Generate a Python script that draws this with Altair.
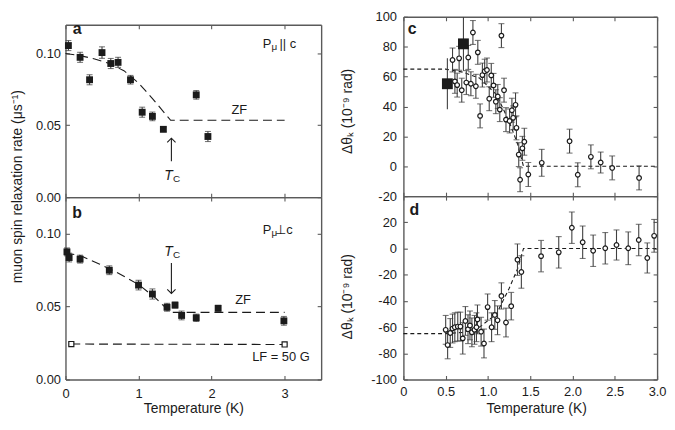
import altair as alt
import pandas as pd

FONT = "Liberation Sans"
INK = "#1b1b1b"
BAR = "#404040"
FRAME = "#5a5a5a"

# ---------------- panel a : P_mu || c ----------------
a_T = [0.04, 0.20, 0.33, 0.50, 0.62, 0.72, 0.89, 1.05, 1.19, 1.34, 1.79, 1.95]
a_rate = [0.1055, 0.0973, 0.0817, 0.1006, 0.0930, 0.0938, 0.0817, 0.0591, 0.0562, 0.0472, 0.0712, 0.0422]
a_err = [0.0035, 0.0035, 0.0035, 0.0040, 0.0035, 0.0035, 0.0030, 0.0035, 0.0030, 0.0015, 0.0030, 0.0035]
a_fit_T = [0.0, 0.2, 0.4, 0.6, 0.8, 1.0, 1.2, 1.44, 3.0]
a_fit = [0.1000, 0.0985, 0.0962, 0.0930, 0.0880, 0.0795, 0.0680, 0.0535, 0.0535]

# ---------------- panel b : P_mu _|_ c ----------------
b_T = [0.02, 0.05, 0.20, 0.60, 1.00, 1.19, 1.39, 1.50, 1.59, 1.79, 2.09, 2.99]
b_rate = [0.0875, 0.0836, 0.0825, 0.0749, 0.0647, 0.0586, 0.0495, 0.0510, 0.0439, 0.0423, 0.0488, 0.0402]
b_err = [0.0027, 0.0030, 0.0027, 0.0030, 0.0033, 0.0035, 0.0027, 0.0020, 0.0030, 0.0025, 0.0020, 0.0030]
b_lf_T = [0.08, 3.00]
b_lf = [0.0243, 0.0240]
b_fit_T = [0.0, 0.2, 0.47, 0.7, 1.0, 1.22, 1.38, 1.44, 3.0]
b_fit = [0.0868, 0.0850, 0.0790, 0.0735, 0.0651, 0.0564, 0.0488, 0.0460, 0.0460]

# ---------------- panel c : Kerr rotation ----------------
c_sq_T = [0.52, 0.71]
c_sq = [55.2, 81.9]
c_sq_err = [17, 18]
c_T = [0.581, 0.609, 0.636, 0.659, 0.690, 0.744, 0.767, 0.798, 0.822, 0.857, 0.880, 0.907,
       0.934, 0.961, 0.988, 1.015, 1.039, 1.066, 1.093, 1.116, 1.140, 1.159, 1.190, 1.213,
       1.256, 1.283, 1.298, 1.326, 1.337, 1.364, 1.380, 1.407, 1.430, 1.477, 1.636, 1.965,
       2.062, 2.217, 2.333, 2.469, 2.787]
c_val = [71.1, 56.8, 54.3, 72.2, 50.9, 56.0, 72.8, 55.2, 89.5, 53.5, 76.2, 33.7,
         61.0, 63.6, 64.4, 45.2, 60.8, 54.1, 43.2, 46.7, 37.9, 87.4, 50.9, 31.2,
         30.3, 37.5, 32.4, 41.1, 25.7, 7.8, -9.0, 12.0, 16.4, -5.5, 2.3, 16.8,
         -5.7, 6.3, 2.5, -1.1, -7.8]
c_err = [8, 8, 8, 8, 8, 8, 8, 8, 8, 8, 8, 8,
         8, 8, 8, 8, 8, 8, 8, 8, 8, 8, 8, 8,
         8, 8, 8, 8, 8, 8, 8, 8, 9, 8, 9, 8,
         8, 8, 7, 8, 8]
c_fit_T = [0.0, 0.5, 0.7, 0.9, 1.1, 1.25, 1.35, 1.42, 3.0]
c_fit = [65, 65, 63, 59, 48, 30, 15, 0, 0]

# ---------------- panel d ----------------
d_T = [0.500, 0.523, 0.554, 0.581, 0.608, 0.643, 0.674, 0.702, 0.733, 0.764, 0.787, 0.810,
       0.841, 0.864, 0.876, 0.919, 0.953, 0.996, 1.043, 1.081, 1.113, 1.159, 1.213, 1.275,
       1.349, 1.395, 1.628, 1.837, 1.992, 2.120, 2.244, 2.387, 2.520, 2.659, 2.783, 2.884,
       2.965]
d_val = [-62.1, -73.7, -64.5, -61.1, -60.1, -59.6, -59.6, -68.6, -55.3, -61.6, -58.7, -64.0,
         -62.1, -60.1, -54.1, -63.5, -72.5, -44.7, -60.1, -50.7, -54.8, -36.2, -56.5, -44.0,
         -8.5, -17.9, -5.8, -2.9, 15.9, 4.8, -1.7, 0.2, 2.7, 0.2, 6.5, -7.2,
         9.7]
d_err = [11, 10.5, 11, 11, 11, 11, 11, 12, 11, 11, 11, 11,
         11, 11, 11, 11, 11, 10, 11, 11, 11, 10, 11, 10.5,
         12, 12.4, 12, 12, 12, 12.4, 12, 12, 11.5, 12.5, 12, 11.5,
         12.5]
d_fit_T = [0.0, 0.5, 0.7, 0.9, 1.1, 1.25, 1.35, 1.42, 3.0]
d_fit = [-65, -65, -64, -60, -50, -30.5, -15.5, 0, 0]

# ---------------- axes / ticks ----------------
XL = [0, 3.5]
YA = [0, 0.12]
YB = [0, 0.125]
XR = [0, 3.0]
YC = [-20, 100]
YD = [-100, 40]
x_ticks_left = [0, 1, 2, 3]
y_ticks_left = [0, 0.05, 0.10]
x_ticks_right = [0, 0.5, 1.0, 1.5, 2.0, 2.5, 3.0]
y_ticks_c = [-20, 0, 20, 40, 60, 80, 100]
y_ticks_d = [-100, -80, -60, -40, -20, 0, 20]

LEFT_TITLE = "muon spin relaxation rate (\u03bcs\u207b\u00b9)"
RIGHT_TITLE = "\u0394\u03b8\u2096 (10\u207b\u2079 rad)"
X_TITLE = "Temperature (K)"

LW, RW = 258, 256
HA, HB, HC, HD = 174, 184, 181, 185
SPACER = 8
GAP = 17


def scl(dom):
    return alt.Scale(domain=dom, nice=False, zero=False)


def ex(dom, ax=None, field="T"):
    return alt.X(f"{field}:Q", scale=scl(dom), axis=ax)


def ey(dom, ax=None, field="v"):
    return alt.Y(f"{field}:Q", scale=scl(dom), axis=ax)


def mkaxis(orient, values, labels=False, **kw):
    d = dict(orient=orient, values=values, grid=False, domain=True, domainColor=FRAME,
             domainWidth=1.4, ticks=True, tickSize={"expr": "-4"}, tickColor=FRAME,
             tickWidth=1.1, labels=labels, labelFont=FONT, labelFontSize=13,
             labelColor=INK, labelFlush=False, labelOverlap=False, title=None,
             titleFont=FONT, titleFontSize=14, titleColor=INK, titleFontWeight="normal")
    d.update(kw)
    return alt.Axis(**d)


def errdf(T, v, e):
    return pd.DataFrame({"T": T, "v": v,
                         "lo": [a - b for a, b in zip(v, e)],
                         "hi": [a + b for a, b in zip(v, e)]})


def errbars(df, xd, yd, top_ax=None, right_ax=None, caps=True):
    rule = alt.Chart(df).mark_rule(color=BAR, strokeWidth=1.1).encode(
        x=ex(xd, top_ax), y=ey(yd, right_ax, "lo"), y2=alt.Y2("hi"))
    out = [rule]
    if caps:
        cap = alt.Chart(df).transform_fold(["lo", "hi"], as_=["k", "e"]).mark_tick(
            orient="horizontal", size=6, thickness=1.1, color=BAR).encode(
            x=ex(xd), y=ey(yd, None, "e"))
        out.append(cap)
    return out


def label(x, y, s, xd, yd, size=13, **kw):
    d = pd.DataFrame({"T": [x], "v": [y], "s": [s]})
    return alt.Chart(d).mark_text(font=FONT, fontSize=size, color=INK, **kw).encode(
        x=ex(xd), y=ey(yd), text="s:N")


def arrow(x, y0, y1, xd, yd, up=True):
    shaft = alt.Chart(pd.DataFrame({"T": [x], "v": [y0], "v2": [y1]})).mark_rule(
        color=INK, strokeWidth=1.1).encode(x=ex(xd), y=ey(yd), y2=alt.Y2("v2"))
    shape = "M -1 1 L 0 0 L 1 1" if up else "M -1 -1 L 0 0 L 1 -1"
    head = alt.Chart(pd.DataFrame({"T": [x], "v": [y1]})).mark_point(
        shape=shape, size=70, filled=False, stroke=INK, strokeWidth=1.1, opacity=1).encode(
        x=ex(xd), y=ey(yd))
    return [shaft, head]


def line(T, v, xd, yd, dash, width=1.1):
    return alt.Chart(pd.DataFrame({"T": T, "v": v})).mark_line(
        color=INK, strokeDash=dash, strokeWidth=width).encode(x=ex(xd), y=ey(yd))


# ---------------- panel a ----------------
a_df = errdf(a_T, a_rate, a_err)
a_layers = [
    line(a_fit_T, a_fit, XL, YA, [9, 5]),
    *errbars(a_df, XL, YA, mkaxis("top", x_ticks_left), mkaxis("right", y_ticks_left)),
    alt.Chart(a_df).mark_square(size=48, color=INK, opacity=1).encode(
        x=ex(XL, mkaxis("bottom", x_ticks_left)),
        y=ey(YA, mkaxis("left", y_ticks_left, labels=True, format=".2f", labelPadding=9,
                        title=LEFT_TITLE, titleX=-41, titleY=163))),
    label(0.16, 0.1167, "a", XL, YA, size=16, fontWeight="bold"),
    label(2.70, 0.1068, "P", XL, YA, align="left"),
    label(2.82, 0.1046, "\u03bc", XL, YA, size=10, align="left"),
    label(2.93, 0.1068, "|| c", XL, YA, align="left"),
    label(2.38, 0.0606, "ZF", XL, YA),
    label(1.41, 0.0145, "T", XL, YA, size=14, fontStyle="italic"),
    label(1.52, 0.0125, "C", XL, YA, size=10),
    *arrow(1.45, 0.025, 0.041, XL, YA, up=True),
]
panel_a = alt.layer(*a_layers).resolve_axis(x="independent", y="independent").properties(
    width=LW, height=HA)

# ---------------- panel b ----------------
b_df = errdf(b_T, b_rate, b_err)
b_layers = [
    line(b_fit_T, b_fit, XL, YB, [9, 5]),
    line(b_lf_T, b_lf, XL, YB, [9, 5]),
    *errbars(b_df, XL, YB, mkaxis("top", x_ticks_left), mkaxis("right", y_ticks_left)),
    alt.Chart(b_df).mark_square(size=48, color=INK, opacity=1).encode(
        x=ex(XL, mkaxis("bottom", x_ticks_left, labels=True, format="d", labelPadding=12,
                        title=X_TITLE, titleY=22)),
        y=ey(YB, mkaxis("left", y_ticks_left, labels=True, format=".2f", labelPadding=9))),
    alt.Chart(pd.DataFrame({"T": b_lf_T, "v": b_lf})).mark_square(
        size=26, fill="white", stroke=INK, strokeWidth=1.2, opacity=1).encode(
        x=ex(XL), y=ey(YB)),
    label(0.16, 0.114, "b", XL, YB, size=16, fontWeight="bold"),
    label(2.70, 0.1025, "P", XL, YB, align="left"),
    label(2.82, 0.1003, "\u03bc", XL, YB, size=10, align="left"),
    label(2.87, 0.1025, "\u22a5c", XL, YB, align="left"),
    label(1.41, 0.0872, "T", XL, YB, size=14, fontStyle="italic"),
    label(1.52, 0.0852, "C", XL, YB, size=10),
    *arrow(1.45, 0.0799, 0.059, XL, YB, up=False),
    label(2.43, 0.0545, "ZF", XL, YB),
    label(2.95, 0.0152, "LF = 50 G", XL, YB),
]
panel_b = alt.layer(*b_layers).resolve_axis(x="independent", y="independent").properties(
    width=LW, height=HB)

spacer = alt.Chart(pd.DataFrame({"T": [0], "v": [0]})).mark_point(opacity=0).encode(
    x=ex(XL), y=ey(YA)).properties(width=LW, height=SPACER)

# ---------------- panel c ----------------
c_df = errdf(c_T, c_val, c_err)
c_sq_df = errdf(c_sq_T, c_sq, c_sq_err)
c_layers = [
    line(c_fit_T, c_fit, XR, YC, [4, 3]),
    *errbars(c_df, XR, YC, mkaxis("top", x_ticks_right), mkaxis("right", y_ticks_c)),
    *errbars(c_sq_df, XR, YC, caps=False),
    alt.Chart(c_sq_df).mark_square(size=120, color=INK, opacity=1).encode(x=ex(XR), y=ey(YC)),
    alt.Chart(c_df).mark_circle(size=22, fill="white", stroke=INK, strokeWidth=1.2,
                                opacity=1).encode(
        x=ex(XR, mkaxis("bottom", x_ticks_right)),
        y=ey(YC, mkaxis("left", y_ticks_c, labels=True, labelExpr="'' + datum.value",
                        labelPadding=11, title=RIGHT_TITLE, titleX=-49, titleY=95))),
    label(0.105, 91.6, "c", XR, YC, size=16, fontWeight="bold"),
]
panel_c = alt.layer(*c_layers).resolve_axis(x="independent", y="independent").properties(
    width=RW, height=HC)

# ---------------- panel d ----------------
d_df = errdf(d_T, d_val, d_err)
d_layers = [
    line(d_fit_T, d_fit, XR, YD, [4, 3]),
    *errbars(d_df, XR, YD, mkaxis("top", x_ticks_right), mkaxis("right", y_ticks_d)),
    alt.Chart(d_df).mark_circle(size=22, fill="white", stroke=INK, strokeWidth=1.2,
                                opacity=1).encode(
        x=ex(XR, mkaxis("bottom", x_ticks_right, labels=True,
                        labelExpr="datum.value == 0 ? '0' : format(datum.value, '.1f')",
                        labelPadding=10, title=X_TITLE, titleY=22, titleX=134)),
        y=ey(YD, mkaxis("left", y_ticks_d, labels=True, labelExpr="'' + datum.value",
                        labelPadding=11, title=RIGHT_TITLE, titleX=-49, titleY=101))),
    label(0.13, 29.2, "d", XR, YD, size=16, fontWeight="bold"),
]
panel_d = alt.layer(*d_layers).resolve_axis(x="independent", y="independent").properties(
    width=RW, height=HD)

left = alt.vconcat(spacer, panel_a, panel_b, spacing=0, bounds="flush")
right = alt.vconcat(panel_c, panel_d, spacing=0, bounds="flush")

chart = alt.hconcat(left, right, spacing=GAP).properties(
    padding={"left": 2, "right": 0, "top": 0, "bottom": 0},
    background="white",
).configure_view(stroke="transparent")

chart.save("out.html", embed_options={"renderer": "svg", "actions": False})
